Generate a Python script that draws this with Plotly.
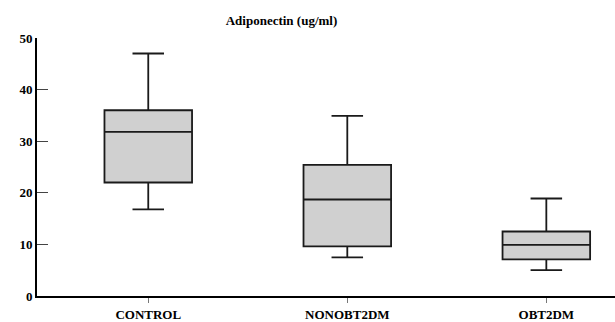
import plotly.graph_objects as go

categories = ["CONTROL", "NONOBT2DM", "OBT2DM"]
lower_whisker = [16.8, 7.5, 5.0]
q1_values = [22.0, 9.6, 7.1]
median_values = [31.8, 18.7, 9.9]
q3_values = [36.0, 25.4, 12.5]
upper_whisker = [47.0, 34.9, 18.9]
y_ticks = [0, 10, 20, 30, 40, 50]
title_text = "Adiponectin (ug/ml)"

FONT = "Liberation Serif, Times New Roman, serif"

fig = go.Figure()
fig.add_trace(go.Box(
    x=categories,
    q1=q1_values,
    median=median_values,
    q3=q3_values,
    lowerfence=lower_whisker,
    upperfence=upper_whisker,
    width=0.44,
    whiskerwidth=0.36,
    fillcolor="#d0d0d0",
    line=dict(color="#1a1a1a", width=1.8),
    boxpoints=False,
    hoverinfo="skip",
    showlegend=False,
))

fig.update_layout(
    width=615,
    height=322,
    margin=dict(l=37, r=0, t=38, b=22),
    paper_bgcolor="white",
    plot_bgcolor="white",
    title=dict(
        text="<b>" + title_text + "</b>",
        x=281.5 / 615,
        xanchor="center",
        xref="container",
        y=1 - 20 / 322,
        yanchor="middle",
        font=dict(family=FONT, size=13, color="black"),
    ),
    font=dict(family=FONT, size=13, color="black"),
)

fig.update_xaxes(
    type="category",
    range=[-0.559, 2.345],
    showline=True,
    linecolor="black",
    linewidth=2,
    showgrid=False,
    zeroline=False,
    ticks="outside",
    ticklen=5,
    tickwidth=1,
    tickcolor="#777777",
    tickvals=categories,
    ticktext=["<b>" + c + "</b>" for c in categories],
    tickfont=dict(family=FONT, size=13, color="black"),
)

fig.update_yaxes(
    range=[0, 50],
    showline=True,
    linecolor="black",
    linewidth=2,
    showgrid=False,
    zeroline=False,
    ticks="inside",
    ticklen=11,
    tickwidth=1,
    tickcolor="#444444",
    tickvals=y_ticks,
    ticktext=["<b>" + str(t) + "</b>" for t in y_ticks],
    tickfont=dict(family=FONT, size=13, color="black"),
)

fig.write_html(
    "out.html",
    config={"displayModeBar": False, "staticPlot": True},
    post_script="document.body.style.margin='0px';document.body.style.overflow='hidden';",
)
